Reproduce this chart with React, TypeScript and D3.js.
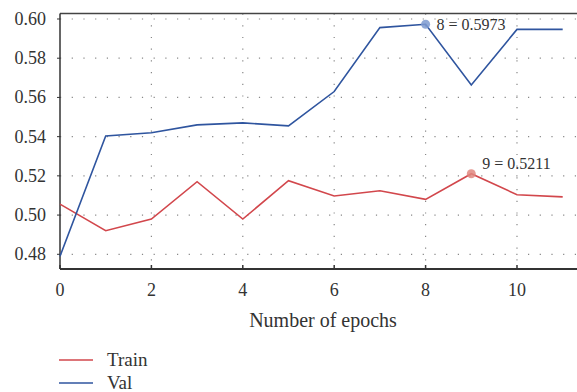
import React, { useRef, useEffect } from "react";
import * as d3 from "d3";

const epochs = [0, 1, 2, 3, 4, 5, 6, 7, 8, 9, 10, 11];
const trainAcc = [0.5056, 0.492, 0.498, 0.517, 0.498, 0.5175, 0.5097, 0.5124, 0.508, 0.5211, 0.5104, 0.5093];
const valAcc = [0.479, 0.5403, 0.542, 0.546, 0.547, 0.5455, 0.563, 0.5956, 0.5973, 0.5663, 0.5947, 0.5947];
const xTicks = [0, 2, 4, 6, 8, 10];
const yTicks = [0.48, 0.5, 0.52, 0.54, 0.56, 0.58, 0.6];
const seriesNames = ["Train", "Val"];
const seriesColors = ["#d2474c", "#2f559f"];
const markerColors = ["#e0877f", "#7d9ad0"];
const peaks = [{ series: 0, epoch: 9 }, { series: 1, epoch: 8 }];

const W = 577;
const H = 392;
const left = 60;
const top = 13.5;
const bottom = 269;
const right = 577;

const App = () => {
	const svgRef = useRef(null);

	useEffect(() => {
		const svg = d3.select(svgRef.current);
		svg.selectAll("*").remove();
		const font = "'Liberation Serif', 'DejaVu Serif', serif";

		// scales
		const x = d3.scaleLinear().domain([0, 11.3]).range([left, 576.4]);
		const y = d3.scaleLinear().domain([0.4725, 0.6028]).range([bottom, top]);

		// grid
		const grid = svg.append("g");
		grid.selectAll("line.h")
			.data(yTicks)
			.enter()
			.append("line")
			.attr("x1", left)
			.attr("x2", right)
			.attr("y1", d => y(d))
			.attr("y2", d => y(d))
			.attr("stroke", "#888")
			.attr("stroke-width", 1.2)
			.attr("stroke-dasharray", "1.2,10.5");
		grid.selectAll("line.v")
			.data(xTicks.filter(d => d > 0))
			.enter()
			.append("line")
			.attr("x1", d => x(d))
			.attr("x2", d => x(d))
			.attr("y1", top)
			.attr("y2", bottom)
			.attr("stroke", "#888")
			.attr("stroke-width", 1.2)
			.attr("stroke-dasharray", "1.2,10.5");

		// frame
		svg.append("line").attr("x1", left).attr("x2", right).attr("y1", top).attr("y2", top)
			.attr("stroke", "#444").attr("stroke-width", 1.5);
		svg.append("line").attr("x1", left).attr("x2", left).attr("y1", top).attr("y2", bottom)
			.attr("stroke", "#333").attr("stroke-width", 1.5);
		svg.append("line").attr("x1", left).attr("x2", right).attr("y1", bottom).attr("y2", bottom)
			.attr("stroke", "#333").attr("stroke-width", 2);

		// y axis labels
		const yAxis = svg.append("g");
		yAxis.selectAll("line")
			.data(yTicks)
			.enter()
			.append("line")
			.attr("x1", left - 3)
			.attr("x2", left)
			.attr("y1", d => y(d))
			.attr("y2", d => y(d))
			.attr("stroke", "#333");
		yAxis.selectAll("text")
			.data(yTicks)
			.enter()
			.append("text")
			.attr("x", 46)
			.attr("y", d => y(d) + 6)
			.attr("text-anchor", "end")
			.attr("font-family", font)
			.attr("font-size", 18)
			.attr("fill", "#333")
			.text(d => d3.format(".2f")(d));

		// x axis labels
		const xAxis = svg.append("g");
		xAxis.selectAll("line")
			.data(xTicks)
			.enter()
			.append("line")
			.attr("x1", d => x(d))
			.attr("x2", d => x(d))
			.attr("y1", bottom - 4)
			.attr("y2", bottom)
			.attr("stroke", "#333")
			.attr("stroke-width", 1.5);
		xAxis.selectAll("text")
			.data(xTicks)
			.enter()
			.append("text")
			.attr("x", d => x(d))
			.attr("y", 296)
			.attr("text-anchor", "middle")
			.attr("font-family", font)
			.attr("font-size", 18)
			.attr("fill", "#333")
			.text(d => d);
		svg.append("text")
			.attr("x", 323)
			.attr("y", 327)
			.attr("text-anchor", "middle")
			.attr("font-family", font)
			.attr("font-size", 20)
			.attr("fill", "#333")
			.text("Number of epochs");

		// lines
		const series = [trainAcc, valAcc];
		const line = d3.line().x((d, i) => x(epochs[i])).y(d => y(d));
		series.forEach((s, k) => {
			svg.append("path")
				.datum(s)
				.attr("d", line)
				.attr("fill", "none")
				.attr("stroke", seriesColors[k])
				.attr("stroke-width", 1.6);
		});

		// peak markers
		peaks.forEach(p => {
			const v = series[p.series][p.epoch];
			svg.append("circle")
				.attr("cx", x(p.epoch))
				.attr("cy", y(v))
				.attr("r", 4.5)
				.attr("fill", markerColors[p.series])
				.attr("opacity", 0.85);
			svg.append("text")
				.attr("x", x(p.epoch) + 11)
				.attr("y", y(v) - (p.series === 1 ? -6 : 5))
				.attr("font-family", font)
				.attr("font-size", 16)
				.attr("fill", "#333")
				.text(`${p.epoch} = ${v.toFixed(4)}`);
		});

		// legend
		const legend = svg.append("g");
		seriesNames.forEach((name, k) => {
			const ly = 360 + k * 23;
			legend.append("line")
				.attr("x1", 59)
				.attr("x2", 93)
				.attr("y1", ly)
				.attr("y2", ly)
				.attr("stroke", seriesColors[k])
				.attr("stroke-width", 1.4);
			legend.append("text")
				.attr("x", 107)
				.attr("y", ly + 5.5)
				.attr("font-family", font)
				.attr("font-size", 19)
				.attr("fill", "#333")
				.text(name);
		});
	});

	return (
		<div>
			<svg ref={svgRef} width={W} height={H} style={{ position: "absolute", left: 0, top: 0, background: "#fff" }}>
			</svg>
		</div>
	);
};

export default App;
